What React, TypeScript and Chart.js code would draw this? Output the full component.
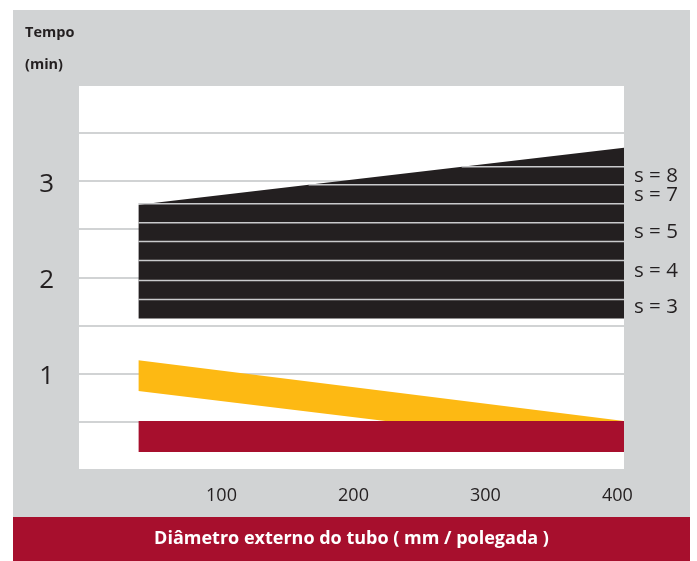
import { useEffect, useRef } from 'react';
import { Chart, registerables } from 'chart.js';

Chart.register(...registerables);

// ---- data ----
const X_START = 37;
const X_END = 405;
const X_TICKS = [100, 200, 300, 400];
const Y_TICKS = [1, 2, 3];

const BLACK_TOP = [2.756, 3.347];
const BLACK_BOTTOM = [1.575, 1.575];
const SEPARATORS = [1.772, 1.969, 2.176, 2.373, 2.57, 2.767];
const SEP_S7_START = 166;
const SEP_S7 = 2.964;
const SEP_S8_START = 282;
const SEP_S8 = 3.15;

const YELLOW_TOP = [1.14, 0.508];
const YELLOW_BOTTOM = [0.82, 0.207];
const RED_TOP = [0.508, 0.508];
const RED_BOTTOM = [0.187, 0.187];

const S_LABELS = ['s = 8', 's = 7', 's = 5', 's = 4', 's = 3'];
const S_LABEL_POS = [3.057, 2.86, 2.47, 2.07, 1.69];

const X_TITLE = 'Diâmetro externo do tubo ( mm / polegada )';
const Y_TITLE_1 = 'Tempo';
const Y_TITLE_2 = '(min)';

// ---- styles ----
const GRAY = '#d1d3d4';
const BLACK = '#231f20';
const YELLOW = '#fdb913';
const RED = '#a70f2d';
const SEP = '#c9cacc';
const FONT = '"Open Sans", "DejaVu Sans", sans-serif';

const pair = (ys: number[], x0 = X_START, x1 = X_END) => [
  { x: x0, y: ys[0] },
  { x: x1, y: ys[1] },
];

export default function App() {
  const ref = useRef<HTMLCanvasElement | null>(null);

  useEffect(() => {
    if (!ref.current) return;
    const none = 'rgba(0,0,0,0)';
    const area = (data: any, fill: number | false, color: string) => ({
      data,
      fill,
      backgroundColor: color,
      borderColor: none,
      borderWidth: 0,
      pointRadius: 0,
      tension: 0,
    });
    const sep = (data: any) => ({
      data,
      fill: false,
      borderColor: SEP,
      borderWidth: 1.5,
      pointRadius: 0,
      tension: 0,
    });

    const datasets: any[] = [
      area(pair(RED_TOP), 1, RED),
      area(pair(RED_BOTTOM), false, RED),
      area(pair(YELLOW_TOP), 3, YELLOW),
      area(pair(YELLOW_BOTTOM), false, YELLOW),
      ...SEPARATORS.map((v) => sep(pair([v, v]))),
      sep(pair([SEP_S7, SEP_S7], SEP_S7_START)),
      sep(pair([SEP_S8, SEP_S8], SEP_S8_START)),
    ];
    const blackTopIndex = datasets.length;
    datasets.push(area(pair(BLACK_TOP), blackTopIndex + 1, BLACK));
    datasets.push(area(pair(BLACK_BOTTOM), false, BLACK));

    const bgPlugin = {
      id: 'bg',
      beforeDraw(chart: any) {
        const { ctx, chartArea } = chart;
        ctx.save();
        ctx.fillStyle = '#ffffff';
        ctx.fillRect(0, 0, chart.width, chart.height);
        ctx.fillStyle = GRAY;
        ctx.fillRect(13, 10, 677, chart.height - 10);
        ctx.fillStyle = '#ffffff';
        ctx.fillRect(chartArea.left, chartArea.top, chartArea.right - chartArea.left, chartArea.bottom - chartArea.top);
        ctx.fillStyle = RED;
        ctx.fillRect(13, 517, 677, chart.height - 517);
        ctx.fillStyle = BLACK;
        ctx.font = `bold 14.5px ${FONT}`;
        ctx.textBaseline = 'middle';
        ctx.textAlign = 'left';
        ctx.fillText(Y_TITLE_1, 25, 33);
        ctx.fillText(Y_TITLE_2, 25, 65);
        ctx.restore();
      },
    };

    const chart = new Chart(ref.current, {
      type: 'line',
      data: { datasets },
      plugins: [bgPlugin],
      options: {
        animation: false,
        responsive: false,
        layout: { padding: { top: 85, left: 0, right: 0, bottom: 0 } },
        plugins: { legend: { display: false }, tooltip: { enabled: false } },
        scales: {
          x: {
            type: 'linear',
            min: -8,
            max: 405,
            afterBuildTicks: (s: any) => {
              s.ticks = X_TICKS.map((v) => ({ value: v }));
            },
            afterFit: (s: any) => {
              s.height = 91;
            },
            grid: { display: false, drawTicks: false },
            border: { display: false },
            ticks: {
              color: BLACK,
              font: { size: 18, family: FONT },
              padding: 15,
              maxRotation: 0,
              autoSkip: false,
            },
            title: {
              display: true,
              text: X_TITLE,
              color: '#ffffff',
              font: { size: 18, weight: 'bold', family: FONT },
              padding: { top: 0, bottom: 11 },
            },
          },
          y: {
            type: 'linear',
            position: 'left',
            min: 0,
            max: 4,
            afterFit: (s: any) => {
              s.width = 79;
            },
            grid: { color: GRAY, lineWidth: 2, drawTicks: false },
            border: { display: false },
            ticks: {
              stepSize: 0.5,
              autoSkip: false,
              color: BLACK,
              padding: 25,
              labelOffset: 3,
              font: { size: 26, weight: 400, family: FONT },
              callback: (v: any) => (Y_TICKS.includes(Number(v)) ? String(v) : ''),
            },
          },
          yR: {
            type: 'linear',
            position: 'right',
            min: 0,
            max: 4,
            afterBuildTicks: (s: any) => {
              s.ticks = S_LABEL_POS.map((v) => ({ value: v }));
            },
            afterFit: (s: any) => {
              s.width = 73;
            },
            grid: { display: false, drawTicks: false },
            border: { display: false },
            ticks: {
              autoSkip: false,
              color: BLACK,
              padding: 10,
              font: { size: 20.5, family: FONT },
              callback: (v: any) => S_LABELS[S_LABEL_POS.indexOf(Number(v))] ?? '',
            },
          },
        },
      } as any,
    });
    return () => chart.destroy();
  }, []);

  return (
    <div style={{ position: 'absolute', left: 0, top: 0, width: 697, height: 561 }}>
      <canvas ref={ref} width={697} height={561} style={{ width: 697, height: 561 }} />
    </div>
  );
}
